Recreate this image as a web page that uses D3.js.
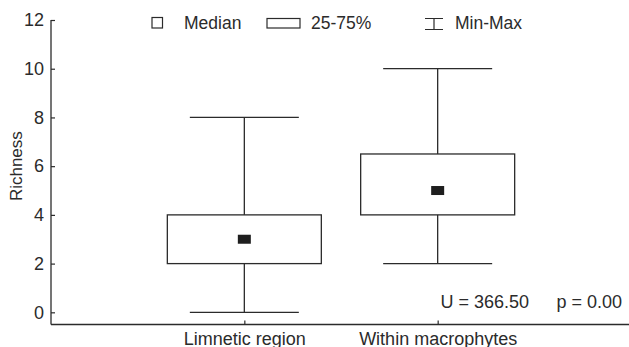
<!DOCTYPE html>
<html>
<head>
<meta charset="utf-8">
<script src="https://cdn.jsdelivr.net/npm/d3@7"></script>
<style>
  body { margin: 0; background: #fff; }
  text { font-family: "Liberation Sans", Arial, sans-serif; fill: #2b2b2b; }
</style>
</head>
<body>
<svg id="chart" width="629" height="347"></svg>
<script>
// data
var categories = ["Limnetic region", "Within macrophytes"];
var minVals    = [0, 2];
var q1Vals     = [2, 4];
var medianVals = [3, 5];
var q3Vals     = [4, 6.5];
var maxVals    = [8, 10];
var yTicks     = [0, 2, 4, 6, 8, 10, 12];
var legendLabels = ["Median", "25-75%", "Min-Max"];
var statsLabels  = ["U = 366.50", "p = 0.00"];

var ink = "#2b2b2b",
    fontSize = 18,
    boxHalf = 77,
    capHalf = 54.5;

var svg = d3.select("#chart");

var x = d3.scalePoint()
    .domain(categories)
    .range([51, 631])
    .padding(1);

var y = d3.scaleLinear()
    .domain([-0.5, 12])
    .range([324.5, 20]);

var boxes = categories.map(function(c, i) {
    return { cat: c, min: minVals[i], q1: q1Vals[i], med: medianVals[i], q3: q3Vals[i], max: maxVals[i] };
});

// axes
var yAxis = d3.axisLeft(y)
    .tickValues(yTicks)
    .tickSizeInner(-4)
    .tickSizeOuter(0)
    .tickPadding(7);

var gy = svg.append("g")
    .attr("transform", "translate(51,0)")
    .call(yAxis);
gy.select(".domain").remove();
gy.append("line")
    .attr("x1", 0).attr("x2", 0)
    .attr("y1", y(12)).attr("y2", y(-0.5))
    .attr("stroke", ink).attr("stroke-width", 1.3);
gy.selectAll(".tick line").attr("stroke", ink).attr("stroke-width", 1.2);
gy.selectAll(".tick text")
    .attr("font-size", fontSize)
    .attr("fill", ink)
    .style("font-family", "Liberation Sans, Arial, sans-serif");

var xAxis = d3.axisBottom(x)
    .tickSizeInner(-4)
    .tickSizeOuter(0)
    .tickPadding(8);

var gx = svg.append("g")
    .attr("transform", "translate(0," + y(-0.5) + ")")
    .call(xAxis);
gx.select(".domain").remove();
gx.append("line")
    .attr("x1", 51).attr("x2", 629)
    .attr("y1", 0).attr("y2", 0)
    .attr("stroke", ink).attr("stroke-width", 1.3);
gx.selectAll(".tick line").attr("stroke", ink).attr("stroke-width", 1.2);
gx.selectAll(".tick text")
    .attr("font-size", fontSize)
    .attr("fill", ink)
    .style("font-family", "Liberation Sans, Arial, sans-serif");

svg.append("text")
    .attr("transform", "translate(22," + y(6) + ") rotate(-90)")
    .attr("text-anchor", "middle")
    .attr("font-size", 17)
    .text("Richness");

// box plots
var g = svg.selectAll("g.box")
    .data(boxes)
    .enter().append("g")
    .attr("class", "box");

g.append("line")  // whisker
    .attr("x1", function(d) { return x(d.cat); })
    .attr("x2", function(d) { return x(d.cat); })
    .attr("y1", function(d) { return y(d.max); })
    .attr("y2", function(d) { return y(d.min); })
    .attr("stroke", ink).attr("stroke-width", 1.3);

g.selectAll("line.cap")
    .data(function(d) { return [d.min, d.max].map(function(v) { return { cat: d.cat, v: v }; }); })
    .enter().append("line")
    .attr("class", "cap")
    .attr("x1", function(d) { return x(d.cat) - capHalf; })
    .attr("x2", function(d) { return x(d.cat) + capHalf; })
    .attr("y1", function(d) { return y(d.v); })
    .attr("y2", function(d) { return y(d.v); })
    .attr("stroke", ink).attr("stroke-width", 1.3);

g.append("rect")
    .attr("x", function(d) { return x(d.cat) - boxHalf; })
    .attr("y", function(d) { return y(d.q3); })
    .attr("width", boxHalf * 2)
    .attr("height", function(d) { return y(d.q1) - y(d.q3); })
    .attr("fill", "#fff")
    .attr("stroke", ink).attr("stroke-width", 1.3);

g.append("rect")
    .attr("x", function(d) { return x(d.cat) - 6.5; })
    .attr("y", function(d) { return y(d.med) - 4.5; })
    .attr("width", 13)
    .attr("height", 9)
    .attr("fill", "#1e1e1e");

// legend
var lg = svg.append("g");
lg.append("rect")
    .attr("x", 152).attr("y", 17.5).attr("width", 10.5).attr("height", 10.5)
    .attr("fill", "none").attr("stroke", ink).attr("stroke-width", 1.2);
lg.append("rect")
    .attr("x", 267).attr("y", 18.5).attr("width", 33).attr("height", 9.5)
    .attr("fill", "none").attr("stroke", ink).attr("stroke-width", 1.2);
lg.append("path")
    .attr("d", "M425,18.5H443M434,18.5V29.5M425,29.5H443")
    .attr("fill", "none").attr("stroke", ink).attr("stroke-width", 1.2);
lg.selectAll("text")
    .data(legendLabels)
    .enter().append("text")
    .attr("x", function(d, i) { return [184, 311, 455][i]; })
    .attr("y", 29)
    .attr("font-size", 17.5)
    .text(function(d) { return d; });

// test statistics
svg.selectAll("text.stat")
    .data(statsLabels)
    .enter().append("text")
    .attr("class", "stat")
    .attr("x", function(d, i) { return [440.5, 556.5][i]; })
    .attr("y", 307.5)
    .attr("font-size", fontSize)
    .text(function(d) { return d; });
</script>
</body>
</html>
